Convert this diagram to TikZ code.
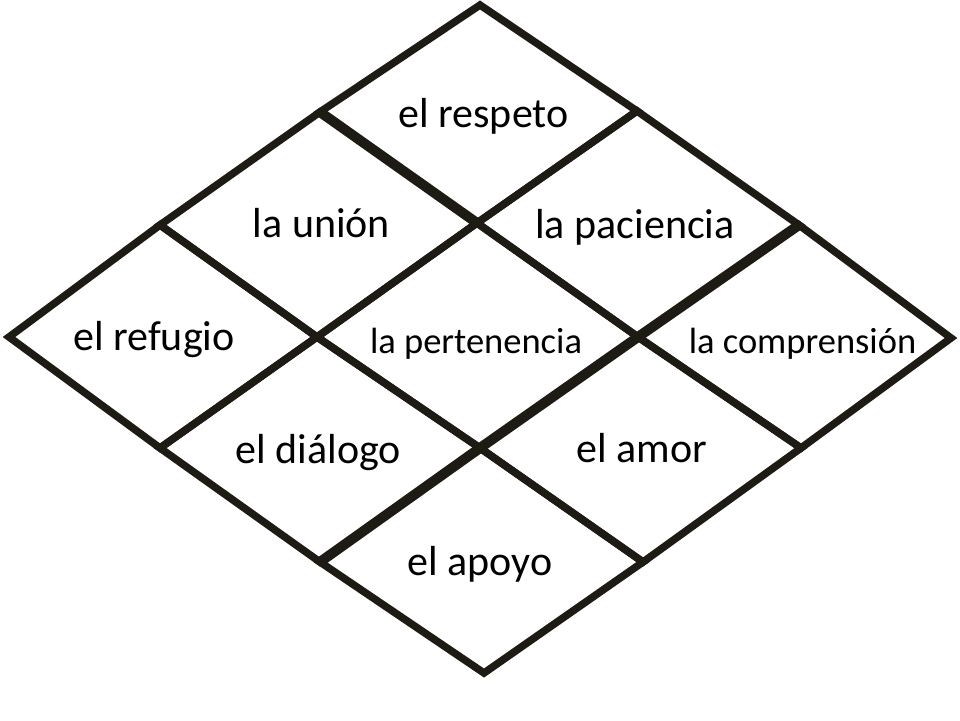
\documentclass[tikz,border=0pt]{standalone}
\usepackage{fontspec}
\setmainfont{Carlito}
\definecolor{ink}{RGB}{30,26,20}
\tikzset{
  tile/.style={draw=ink, line width=7.5pt, line join=miter},
  seam/.style={draw=ink, line width=10pt},
  bigtxt/.style={anchor=base, inner sep=0pt, text=black, font=\fontsize{42}{48}\selectfont},
  smalltxt/.style={anchor=base, inner sep=0pt, text=black, font=\fontsize{36.5}{42}\selectfont}
}
\begin{document}
\begin{tikzpicture}[x=1pt,y=-1pt]
\useasboundingbox (0,0) rectangle (960,720);
\fill[white] (0,0) rectangle (960,720);
% diamonds
\draw[tile] (480,5) -- (637,111) -- (477,223) -- (320,112) -- cycle;   % respeto
\draw[tile] (320,112) -- (477,223) -- (317,337) -- (160,225) -- cycle; % union
\draw[tile] (160,225) -- (317,337) -- (160,448) -- (9,337) -- cycle;   % refugio
\draw[tile] (637,111) -- (799,225) -- (638,337) -- (477,223) -- cycle; % paciencia
\draw[tile] (477,223) -- (638,337) -- (480,448) -- (317,337) -- cycle; % pertenencia
\draw[tile] (799,225) -- (951,338) -- (801,448) -- (638,337) -- cycle; % comprension
\draw[tile] (317,337) -- (480,448) -- (320,562) -- (160,448) -- cycle; % dialogo
\draw[tile] (638,337) -- (801,448) -- (643,562) -- (480,448) -- cycle; % amor
\draw[tile] (480,448) -- (643,562) -- (484,673) -- (320,562) -- cycle; % apoyo
% thicker seams where tiles overlap
\draw[seam] (320,112) -- (477,223);
\draw[seam] (799,225) -- (638,337) -- (480,448) -- (320,562);
% labels
\node[bigtxt] (respeto) at (483.5,127) {el respeto};
\node[bigtxt] (union) at (321.5,237) {la unión};
\node[bigtxt] (paciencia) at (635,238) {la paciencia};
\node[bigtxt] (refugio) at (154,350) {el refugio};
\node[smalltxt] (pertenencia) at (476,353) {la pertenencia};
\node[smalltxt] (comprension) at (802.5,353) {la comprensión};
\node[bigtxt] (dialogo) at (318.5,463) {el diálogo};
\node[bigtxt] (amor) at (642,462) {el amor};
\node[bigtxt] (apoyo) at (480,575) {el apoyo};
\end{tikzpicture}
\end{document}
